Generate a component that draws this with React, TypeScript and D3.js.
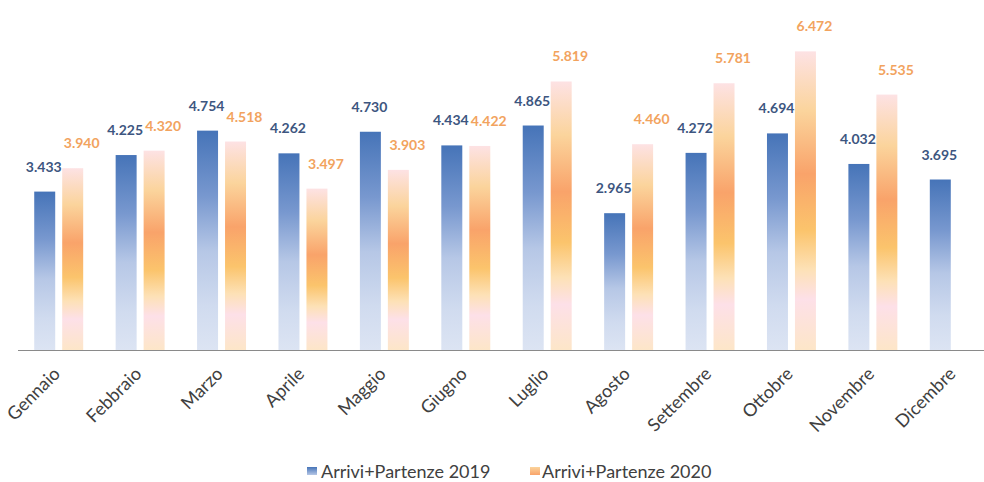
import * as d3 from "d3";

const months = [
  "Gennaio", "Febbraio", "Marzo", "Aprile", "Maggio", "Giugno",
  "Luglio", "Agosto", "Settembre", "Ottobre", "Novembre", "Dicembre",
];
const series = ["Arrivi+Partenze 2019", "Arrivi+Partenze 2020"];
const values2019 = [3433, 4225, 4754, 4262, 4730, 4434, 4865, 2965, 4272, 4694, 4032, 3695];
const values2020 = [3940, 4320, 4518, 3497, 3903, 4422, 5819, 4460, 5781, 6472, 5535, null];

const W = 984;
const H = 482;
const baseY = 350;

const fmt = (v: number) => d3.format(",")(v).replace(/,/g, ".");

const App = () => {
  const x = d3.scaleBand<string>().domain(months).range([18, 995]);
  const inner = d3
    .scaleBand<string>()
    .domain(series)
    .range([0, x.bandwidth()])
    .paddingInner(0.25)
    .paddingOuter(0.58);
  const y = d3.scaleLinear().domain([0, 7000]).range([baseY, 27]);

  const all = [values2019, values2020];
  const fills = ["url(#g19)", "url(#g20)"];
  const labelColors = ["#3d5680", "#f2a35e"];
  const labelDx = [-1, 9];
  const bw = inner.bandwidth();

  return (
    <svg width={W} height={H} style={{ position: "absolute", left: 0, top: 0 }}>
      <defs>
        <linearGradient id="g19" x1="0" y1="0" x2="0" y2="1">
          <stop offset="0" stopColor="#4674b8" />
          <stop offset="0.3" stopColor="#7898cf" />
          <stop offset="0.55" stopColor="#b6c7e6" />
          <stop offset="0.8" stopColor="#d0dbef" />
          <stop offset="1" stopColor="#dce4f3" />
        </linearGradient>
        <linearGradient id="g20" x1="0" y1="0" x2="0" y2="1">
          <stop offset="0" stopColor="#fde2e4" />
          <stop offset="0.2" stopColor="#fbd49c" />
          <stop offset="0.41" stopColor="#f9a36a" />
          <stop offset="0.6" stopColor="#fbc46c" />
          <stop offset="0.73" stopColor="#fde1b6" />
          <stop offset="0.83" stopColor="#fde0e8" />
          <stop offset="1" stopColor="#fde6c8" />
        </linearGradient>
        <linearGradient id="l19" x1="0" y1="0" x2="0" y2="1">
          <stop offset="0" stopColor="#4674b8" />
          <stop offset="1" stopColor="#b6c7e6" />
        </linearGradient>
        <linearGradient id="l20" x1="0" y1="0" x2="0" y2="1">
          <stop offset="0" stopColor="#fbd49c" />
          <stop offset="1" stopColor="#f9a36a" />
        </linearGradient>
      </defs>
      <rect width={W} height={H} fill="#ffffff" />

      {months.map((m, i) =>
        series.map((s, k) => {
          const v = all[k][i];
          if (v == null) return null;
          const bx = (x(m) ?? 0) + (inner(s) ?? 0);
          return (
            <g key={m + s}>
              <rect x={bx} y={y(v)} width={bw} height={baseY - y(v)} fill={fills[k]} />
              <text
                x={bx + bw / 2 + labelDx[k]}
                y={y(v) - 20}
                textAnchor="middle"
                fontFamily="Lato, sans-serif"
                fontWeight="bold"
                fontSize={14}
                fill={labelColors[k]}
              >
                {fmt(v)}
              </text>
            </g>
          );
        })
      )}

      <line x1={18} x2={984} y1={baseY + 0.5} y2={baseY + 0.5} stroke="#8a8a8a" strokeWidth={1.2} />

      {months.map((m) => {
        const cx = (x(m) ?? 0) + x.bandwidth() / 2 + 2.5;
        const cy = 375;
        return (
          <text
            key={m}
            x={cx}
            y={cy}
            transform={`rotate(-45 ${cx} ${cy})`}
            textAnchor="end"
            fontFamily="Lato, sans-serif"
            fontSize={18}
            fill="#404040"
          >
            {m}
          </text>
        );
      })}

      <g fontFamily="Lato, sans-serif" fontSize={18} fill="#404040">
        <rect x={307} y={467} width={10} height={8} fill="url(#l19)" />
        <text x={321} y={478}>{series[0]}</text>
        <rect x={530} y={467} width={10} height={8} fill="url(#l20)" />
        <text x={542} y={478}>{series[1]}</text>
      </g>
    </svg>
  );
};

export default App;
